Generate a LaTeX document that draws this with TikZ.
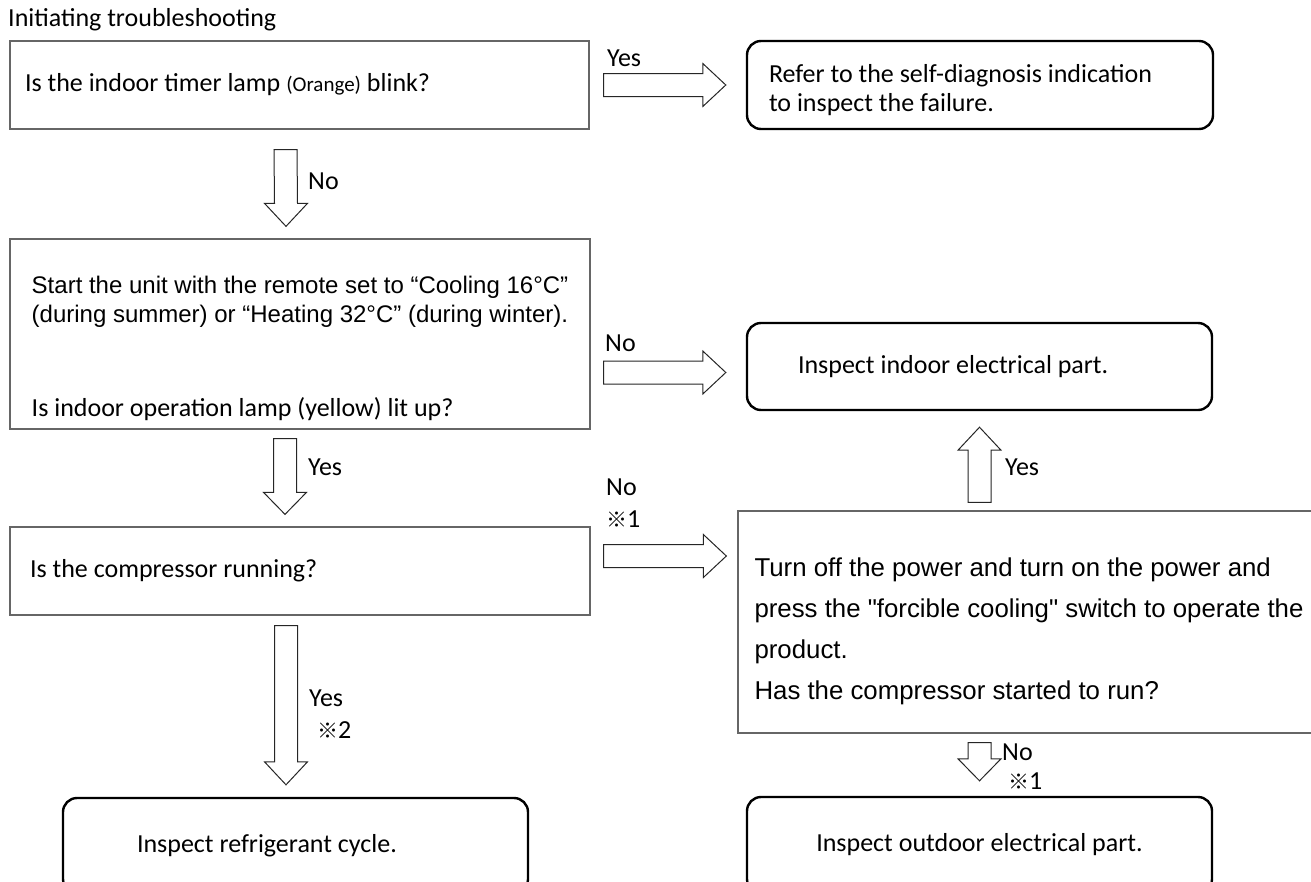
\documentclass[tikz,border=0pt]{standalone}
\usepackage{fontspec}
\setmainfont{Carlito}
\newfontfamily\arialfont{Liberation Sans}
\newfontfamily\cjkfont{Noto Sans CJK JP}
\usepackage{tikz}
\usetikzlibrary{calc}
\tikzset{
  qbox/.style={draw=black!60,line width=1.3pt,rectangle,inner ysep=0pt,align=left},
  ibox/.style={draw=black,line width=2.4pt,rounded corners=14pt,inner ysep=0pt,align=left},
  blk/.style={draw=black!85,line width=1pt,fill=white,line join=miter},
  lbl/.style={anchor=west,inner sep=0pt}
}
% natural word spaces in ragged nodes, and a strut that pushes a text block down
\newcommand{\nsp}{\spaceskip=0pt\xspaceskip=0pt}
\newcommand{\topgap}[1]{\rule{0pt}{#1}}
% hollow block arrows: tail, tip (and head length for the vertical one)
\newcommand{\hblk}[2]{\draw[blk] ($(#1)+(0,-11.5)$) -- ($(#2)+(-23,-11.5)$) -- ($(#2)+(-23,-21.5)$) -- (#2) -- ($(#2)+(-23,21.5)$) -- ($(#2)+(-23,11.5)$) -- ($(#1)+(0,11.5)$) -- cycle;}
\newcommand{\vblk}[3]{\draw[blk] ($(#1)+(-11.5,0)$) -- ($(#2)+(-11.5,{-(#3)})$) -- ($(#2)+(-21.5,{-(#3)})$) -- (#2) -- ($(#2)+(21.5,{-(#3)})$) -- ($(#2)+(11.5,{-(#3)})$) -- ($(#1)+(11.5,0)$) -- cycle;}
\newcommand{\kome}[1]{{\cjkfont\fontsize{21}{24}\selectfont ※}#1}

\begin{document}
\begin{tikzpicture}[x=1pt,y=-1pt,every node/.style={font=\fontsize{26}{29}\selectfont}]
\useasboundingbox (0,0) rectangle (1311,881);
\node[lbl] (title) at (8,20) {Initiating troubleshooting};
% questions
\node[qbox,minimum width=579pt,minimum height=88pt,text width=549pt,inner xsep=15pt] (q1) at (299.5,85) {\nsp Is the indoor timer lamp {\fontsize{21}{24}\selectfont(Orange)} blink?};
\node[qbox,minimum width=580pt,minimum height=190pt] (q2) at (300,334) {{\arialfont\fontsize{24}{28}\selectfont\topgap{46pt}Start the unit with the remote set to “Cooling 16°C”}\\{\arialfont\fontsize{24}{28}\selectfont (during summer) or “Heating 32°C” (during winter).}\\[65pt]Is indoor operation lamp (yellow) lit up?};
\node[qbox,minimum width=580pt,minimum height=88pt,text width=540pt,inner xsep=20pt] (q3) at (300,571) {\nsp Is the compressor running?};
\node[qbox,minimum width=582pt,minimum height=222pt,font=\arialfont\fontsize{25.8}{41}\selectfont] (p) at (1029,622) {\topgap{38pt}Turn off the power and turn on the power and\\press the "forcible cooling" switch to operate the\\product.\\Has the compressor started to run?};
% results
\node[ibox,minimum width=466pt,minimum height=88pt,text width=422pt,inner xsep=22pt] (r1) at (980,85) {\nsp\topgap{28pt}Refer to the self-diagnosis indication\\to inspect the failure.};
\node[ibox,minimum width=465pt,minimum height=87pt,text width=363pt,inner xsep=51pt] (r2) at (979.5,366.5) {\nsp Inspect indoor electrical part.};
\node[ibox,minimum width=465pt,minimum height=95pt,text width=317pt,inner xsep=74pt] (r3) at (295.5,845.5) {\nsp Inspect refrigerant cycle.};
\node[ibox,minimum width=465pt,minimum height=96pt,align=center] (r4) at (979.5,845) {Inspect outdoor electrical part.};
% arrows
\hblk{$(q1.east)+(14,0)$}{$(r1.west)+(-20,0)$}
\vblk{$(q1.south)+(-14,20)$}{$(q2.north)+(-14,-12)$}{23}
\hblk{$(q2.east |- r2.west)+(13,6)$}{$(r2.west)+(-20,6)$}
\vblk{$(q2.south)+(-15,9)$}{$(q3.north)+(-15,-12)$}{22}
\hblk{$(q3.east)+(13,-15)$}{$(p.west |- q3.east)+(-11,-15)$}
\vblk{$(r2.south |- p.north)+(0,-8)$}{$(r2.south)+(0,16)$}{-23}
\vblk{$(r4.north |- p.south)+(0,9)$}{$(r4.north)+(0,-15)$}{22}
\vblk{$(q3.south)+(-14,10)$}{$(r3.north)+(-9.5,-12)$}{23}
% labels
\node[lbl] (yes1) at (607,58) {Yes};
\node[lbl] (no1) at (308,181) {No};
\node[lbl] (no2) at (605,343) {No};
\node[lbl] (yes2) at (308,467) {Yes};
\node[lbl] (no3) at (606,487) {No};
\node[lbl] (k1) at (606,519) {\kome{1}};
\node[lbl] (yes3) at (1005,467) {Yes};
\node[lbl] (no4) at (1002,752) {No};
\node[lbl] (k2) at (1008,781) {\kome{1}};
\node[lbl] (yes4) at (309,698) {Yes};
\node[lbl] (k3) at (317,730) {\kome{2}};
\end{tikzpicture}
\end{document}
